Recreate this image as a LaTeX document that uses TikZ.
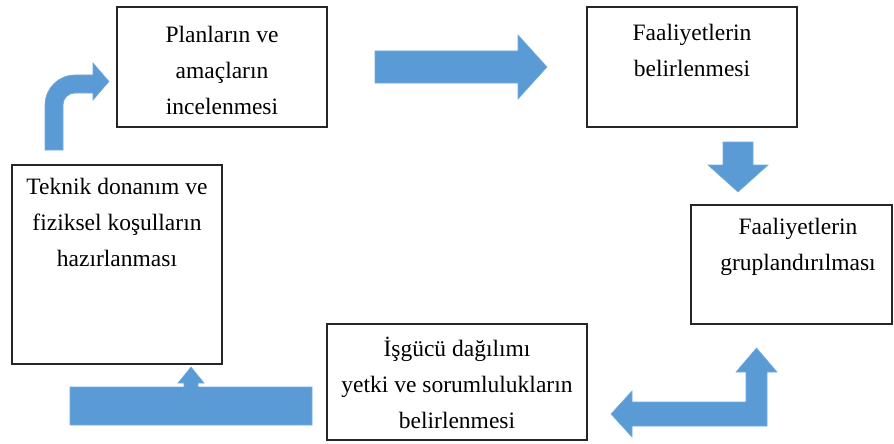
\documentclass[tikz,border=0pt]{standalone}
\usepackage{fontspec}
\setmainfont{Liberation Serif}
\definecolor{arrowblue}{HTML}{5B9BD5}
\begin{document}
\begin{tikzpicture}[x=1pt,y=-1pt,
  box/.style={draw=black!85,line width=1.3pt,rectangle,inner sep=0pt,outer sep=0pt},
  txt/.style={align=center,inner sep=0pt,font=\fontsize{23.5}{36}\selectfont},
  blockarrow/.style={fill=arrowblue,draw=arrowblue!85!white,line width=0.6pt,line join=miter}]
\useasboundingbox (0,0) rectangle (894,444);
% boxes
\node[box,minimum width=210pt,minimum height=120pt] (b1) at (222,67) {};
\node[box,minimum width=210pt,minimum height=120pt] (b2) at (692,67) {};
\node[box,minimum width=201pt,minimum height=119pt] (b3) at (791.5,264.5) {};
\node[box,minimum width=260pt,minimum height=116pt] (b4) at (457,382) {};
\node[box,minimum width=210pt,minimum height=199pt] (b5) at (117,264.5) {};
% texts
\node[txt] (t1) at (222,70) {Planların ve\\amaçların\\incelenmesi};
\node[txt] (t2) at (692,50) {Faaliyetlerin\\belirlenmesi};
\node[txt] (t3) at (798,247) {Faaliyetlerin\\gruplandırılması};
\node[txt] (t4) at (457,383) {İşgücü dağılımı\\yetki ve sorumlulukların\\belirlenmesi};
\node[txt] (t5) at (117,222) {Teknik donanım ve\\fiziksel koşulların\\hazırlanması};
% block arrows
\path[blockarrow] (375,51) -- (518,51) -- (518,35) -- (547,67) -- (518,99) -- (518,83) -- (375,83) -- cycle;
\path[blockarrow] (723,142) -- (753,142) -- (753,165) -- (768,165) -- (738,192) -- (708,165) -- (723,165) -- cycle;
\path[blockarrow] (611,414) -- (632,391) -- (632,402) -- (746,402) -- (746,372) -- (736,372) -- (756.5,348) -- (777,372) -- (767,372) -- (767,426) -- (632,426) -- (632,437) -- cycle;
\path[blockarrow] (70,387) -- (184,387) -- (184,383) -- (178,383) -- (191,367) -- (204,383) -- (198,383) -- (198,387) -- (312,387) -- (312,425) -- (70,425) -- cycle;
\path[blockarrow] (45,150) -- (45,105) .. controls (45,88.4) and (58.4,75) .. (75,75) -- (93,75) -- (93,63) -- (109,81.5) -- (93,100) -- (93,93) -- (75,93) .. controls (68.4,93) and (63,98.4) .. (63,105) -- (63,150) -- cycle;
\end{tikzpicture}
\end{document}
